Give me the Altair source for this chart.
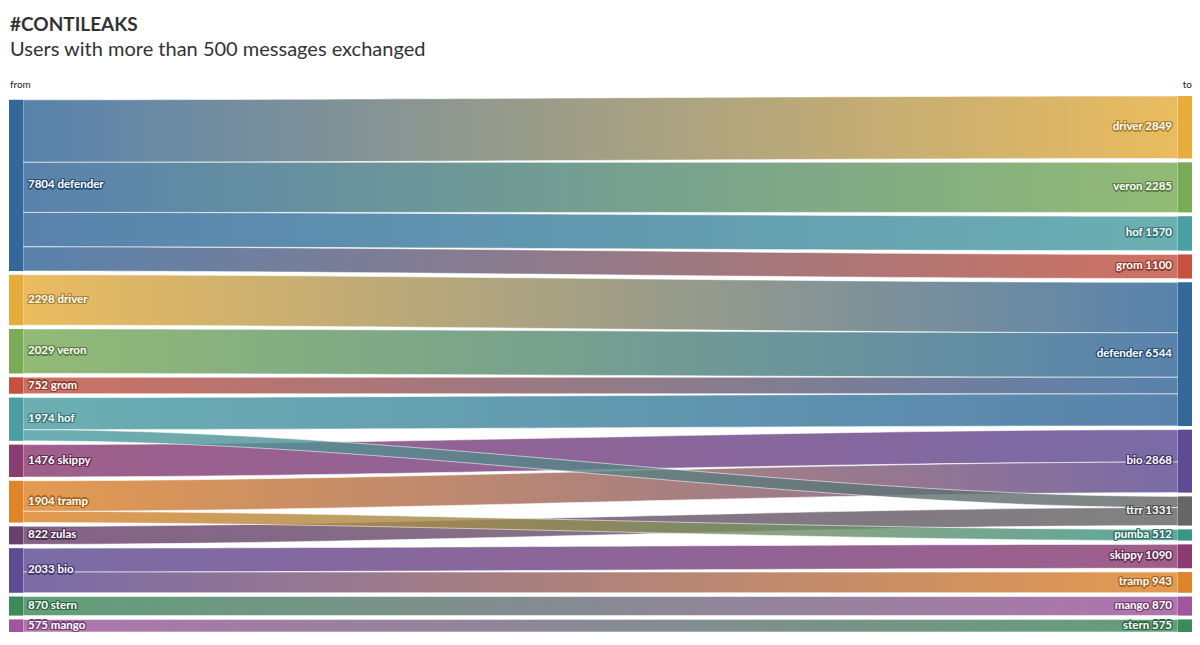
import altair as alt
import pandas as pd

# ---------------- data ----------------
src_nodes = ["defender", "driver", "veron", "grom", "hof", "skippy", "tramp",
             "zulas", "bio", "stern", "mango"]
tgt_nodes = ["driver", "veron", "hof", "grom", "defender", "bio", "ttrr",
             "pumba", "skippy", "tramp", "mango", "stern"]

link_source = ["defender", "defender", "defender", "defender", "driver", "veron",
               "grom", "hof", "hof", "skippy", "tramp", "tramp", "zulas", "bio",
               "bio", "stern", "mango"]
link_target = ["driver", "veron", "hof", "grom", "defender", "defender",
               "defender", "defender", "ttrr", "bio", "bio", "pumba", "ttrr",
               "skippy", "tramp", "mango", "stern"]
link_value = [2849, 2285, 1570, 1100, 2298, 2029, 752, 1465, 509, 1476, 1392,
              512, 822, 1090, 943, 870, 575]

user_names = ["defender", "driver", "veron", "grom", "hof", "skippy", "tramp",
              "zulas", "bio", "stern", "mango", "ttrr", "pumba"]
user_colors = ["#34679a", "#e6ad3c", "#7aab57", "#c4523f", "#4b9ea2", "#8a3b70",
               "#de8429", "#6a3f6c", "#5d4b93", "#3d8a5a", "#9f569d", "#666666",
               "#3a9586"]
color_of = dict(zip(user_names, user_colors))


def darken(hex_color, f=0.75):
    h = hex_color.lstrip("#")
    rgb = [int(h[i:i + 2], 16) for i in (0, 2, 4)]
    return "#" + "".join(f"{int(c * f):02x}" for c in rgb)


# ---------------- layout (style constants) ----------------
W, H = 1183, 536
NODE_W = 14
GAP = 172
LINK_OPACITY = 0.82

total = sum(link_value)
col_gaps = max(len(src_nodes), len(tgt_nodes)) - 1
Y_MAX = total + GAP * col_gaps

src_val = {n: sum(v for s, v in zip(link_source, link_value) if s == n) for n in src_nodes}
tgt_val = {n: sum(v for t, v in zip(link_target, link_value) if t == n) for n in tgt_nodes}


def stack(nodes, vals):
    h = sum(vals[n] for n in nodes) + GAP * (len(nodes) - 1)
    y = Y_MAX - h
    out = {}
    for n in nodes:
        out[n] = (y, y + vals[n])
        y += vals[n] + GAP
    return out


src_pos = stack(src_nodes, src_val)
tgt_pos = stack(tgt_nodes, tgt_val)

links = pd.DataFrame({"source": link_source, "target": link_target, "value": link_value})
links["si"] = links["source"].map(src_nodes.index)
links["ti"] = links["target"].map(tgt_nodes.index)

links = links.sort_values(["si", "ti"])
links["sy0"] = links["source"].map(lambda n: src_pos[n][0]) + \
    links.groupby("source")["value"].cumsum() - links["value"]
links = links.sort_values(["ti", "si"])
links["ty0"] = links["target"].map(lambda n: tgt_pos[n][0]) + \
    links.groupby("target")["value"].cumsum() - links["value"]
links["sy1"] = links["sy0"] + links["value"]
links["ty1"] = links["ty0"] + links["value"]
links = links.sort_values("value", ascending=False).reset_index(drop=True)
links["id"] = range(len(links))

nodes = pd.DataFrame(
    [{"name": n, "side": "from", "x0": 0, "x1": NODE_W, "y0": src_pos[n][0],
      "y1": src_pos[n][1], "value": src_val[n]} for n in src_nodes] +
    [{"name": n, "side": "to", "x0": W - NODE_W, "x1": W, "y0": tgt_pos[n][0],
      "y1": tgt_pos[n][1], "value": tgt_val[n]} for n in tgt_nodes]
)
nodes["color"] = nodes["name"].map(color_of)
nodes["halo"] = nodes["color"].map(darken)
nodes["ym"] = (nodes["y0"] + nodes["y1"]) / 2
nodes["label"] = [f"{v} {n}" if s == "from" else f"{n} {v}"
                  for n, v, s in zip(nodes["name"], nodes["value"], nodes["side"])]

xs = alt.Scale(domain=[0, W], nice=False, zero=False)
ys = alt.Scale(domain=[0, Y_MAX], nice=False, zero=False, reverse=True)

FONT = "Lato"
LABEL_SIZE = 11.5

# ---------------- links ----------------
layers = []
for _, r in links.iterrows():
    grad = alt.LinearGradient(
        gradient="linear",
        stops=[alt.GradientStop(color=color_of[r["source"]], offset=0),
               alt.GradientStop(color=color_of[r["target"]], offset=1)],
        x1=0, x2=1, y1=0, y2=0,
    )
    lk = (
        alt.Chart(links)
        .transform_filter(alt.datum.id == int(r["id"]))
        .transform_calculate(t="sequence(0, 1.0001, 0.02)")
        .transform_flatten(["t"])
        .transform_calculate(
            s="datum.t*datum.t*(3-2*datum.t)",
            x=f"{NODE_W} + datum.t*{W - 2 * NODE_W}",
            ya="datum.sy0 + (datum.ty0 - datum.sy0)*datum.s",
            yb="datum.sy1 + (datum.ty1 - datum.sy1)*datum.s",
        )
        .mark_area(color=grad, fillOpacity=LINK_OPACITY, stroke="white",
                   strokeWidth=0.8, strokeOpacity=0.7)
        .encode(
            x=alt.X("x:Q", scale=xs, axis=None),
            y=alt.Y("ya:Q", scale=ys, axis=None),
            y2="yb:Q",
        )
    )
    layers.append(lk)

# ---------------- nodes ----------------
node_rects = alt.Chart(nodes).mark_rect().encode(
    x=alt.X("x0:Q", scale=xs, axis=None), x2="x1:Q",
    y=alt.Y("y0:Q", scale=ys, axis=None), y2="y1:Q",
    fill=alt.Fill("color:N", scale=None),
)
layers.append(node_rects)

# ---------------- labels (halo made of offset copies + white text) ----------------
HALO_OFFSETS = [(-1.3, 0), (1.3, 0), (0, -1.3), (0, 1.3),
                (-1, -1), (1, -1), (-1, 1), (1, 1)]
for side, align, dx in [("from", "left", 5), ("to", "right", -6)]:
    xfield = "x1:Q" if side == "from" else "x0:Q"
    base = alt.Chart(nodes).transform_filter(alt.datum.side == side)
    for ox, oy in HALO_OFFSETS:
        layers.append(base.mark_text(
            align=align, baseline="middle", dx=dx + ox, dy=oy, font=FONT,
            fontSize=LABEL_SIZE, fontWeight="bold",
        ).encode(
            x=alt.X(xfield, scale=xs, axis=None),
            y=alt.Y("ym:Q", scale=ys, axis=None),
            text="label:N",
            color=alt.Color("halo:N", scale=None),
        ))
    layers.append(base.mark_text(
        align=align, baseline="middle", dx=dx, font=FONT,
        fontSize=LABEL_SIZE, fontWeight="bold", color="white",
    ).encode(
        x=alt.X(xfield, scale=xs, axis=None),
        y=alt.Y("ym:Q", scale=ys, axis=None),
        text="label:N",
    ))


# ---------------- titles ----------------
def label(text, x, y, size, weight="normal", align="left", color="#333333"):
    return alt.Chart(pd.DataFrame({"t": [text]})).mark_text(
        align=align, baseline="alphabetic", font=FONT, fontSize=size,
        fontWeight=weight, color=color,
    ).encode(x=alt.value(x), y=alt.value(y), text="t:N")


layers += [
    label("#CONTILEAKS", 1, -65, 19, "bold"),
    label("Users with more than 500 messages exchanged", 1, -40, 20),
    label("from", 1, -8, 10, color="#222222"),
    label("to", W, -8, 10, align="right", color="#222222"),
]

chart = alt.layer(*layers).properties(
    width=W, height=H,
    autosize=alt.AutoSizeParams(type="none"),
    padding={"left": 1, "top": 88, "right": 0, "bottom": 5},
    background="white",
).configure_view(stroke=None)

chart.save("out.html", embed_options={"renderer": "svg", "actions": False})
